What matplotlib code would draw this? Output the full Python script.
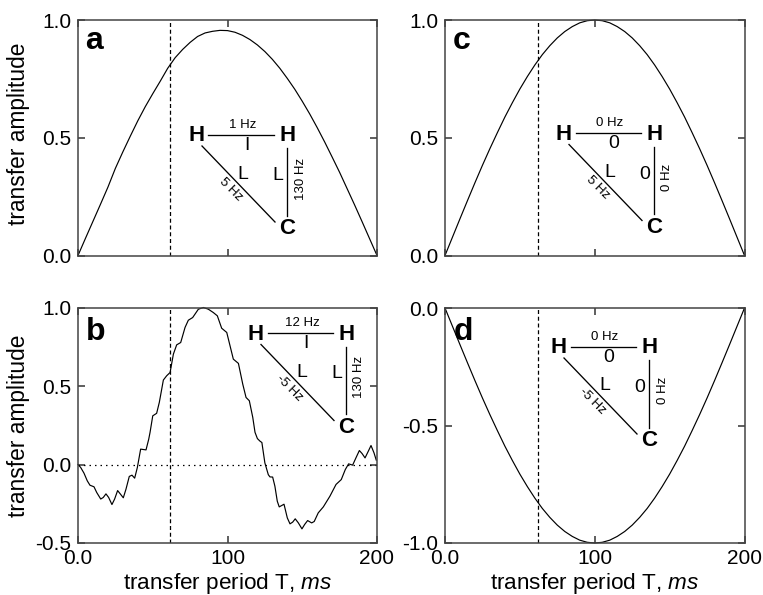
import matplotlib
matplotlib.use('Agg')
import matplotlib.pyplot as plt
from matplotlib.lines import Line2D

plt.rcParams['font.family'] = ['Liberation Sans', 'DejaVu Sans']
plt.rcParams['mathtext.fontset'] = 'custom'
plt.rcParams['mathtext.it'] = 'Liberation Sans:italic'

W, H = 763, 595

# curves
T_grid = [0, 5, 10, 15, 20, 25, 30, 35, 40, 45, 50, 55, 60, 65, 70, 75, 80, 85, 90, 95, 100,
          105, 110, 115, 120, 125, 130, 135, 140, 145, 150, 155, 160, 165, 170, 175, 180, 185, 190, 195, 200]
amp_a = [0, .073, .145, .217, .29, .37, .44, .507, .572, .632, .687, .74, .795, .84, .875, .905, .93, .945, .952, .956, .955,
         .948, .935, .917, .894, .866, .833, .795, .752, .706, .655, .601, .543, .482, .418, .353, .284, .215, .144, .072, 0]
amp_c = [0, .078, .156, .233, .309, .383, .454, .522, .588, .649, .707, .76, .809, .853, .891, .924, .951, .972, .988, .997, 1,
         .997, .988, .972, .951, .924, .891, .853, .809, .76, .707, .649, .588, .522, .454, .383, .309, .233, .156, .078, 0]
amp_d = [-v for v in amp_c]

T_b = [0, 1.8, 4, 6.2, 8, 10.7, 12.5, 15.2, 16.9, 18.7, 20.5, 22.7, 24.5, 26.5, 28.5, 30.3, 32.1, 34.3, 36.1, 37.9,
       39.7, 41.9, 45.5, 47.3, 48.2, 50, 52.6, 54.4, 57.1, 59.3, 61.6, 63.8, 66, 68.7, 71.6, 73.8, 76.7, 80.5, 83.9,
       87.2, 90.5, 93.2, 96.1, 99.5, 101.7, 103.9, 107.3, 110.2, 112.4, 114.6, 116.9, 118.4, 120, 121.7, 123, 125,
       127.3, 128.4, 130.2, 131.7, 133.3, 134.6, 137.8, 140, 141.8, 143.6, 145.3, 147.4, 149.8, 151.6, 153.6, 156.3,
       158, 160.7, 164.1, 168.5, 172.6, 176.1, 178.8, 181, 183.7, 185.9, 188.2, 190, 192, 194.2, 196, 198, 199.5]
amp_b = [0, -.019, -.055, -.104, -.132, -.142, -.178, -.22, -.21, -.187, -.21, -.255, -.22, -.166, -.19, -.212, -.157,
         -.076, -.068, -.087, -.019, .098, .093, .161, .205, .31, .326, .396, .538, .565, .586, .703, .762, .777, .873,
         .919, .936, .989, 1, .989, .968, .947, .868, .841, .756, .671, .644, .512, .427, .406, .3, .205, .165, .149,
         .14, .01, -.065, -.079, -.08, -.138, -.234, -.27, -.253, -.34, -.378, -.367, -.346, -.372, -.41, -.382, -.357,
         -.372, -.363, -.308, -.27, -.202, -.127, -.096, -.032, .004, -.004, .042, .089, .07, .042, .085, .121, .074, .028]

T_mark = 61.8
x_ticks = [0, 100, 200]
x_labels = ['0.0', '100', '200']

# left, top, right, bottom in pixels of the picture
panels = {
    'a': dict(box=(78, 20, 377, 255.5), T=T_grid, y=amp_a, ylim=(0, 1), yt=[0, .5, 1], letter=(85.5, 49),
              origin=(197, 135.5), top='1 Hz', j='I', diag='5 Hz', v1='L', v2='L', side='130 Hz'),
    'b': dict(box=(78, 307.5, 377, 543), T=T_b, y=amp_b, ylim=(-.5, 1), yt=[-.5, 0, .5, 1], letter=(86, 340.5),
              origin=(256, 334), top='12 Hz', j='I', diag='-5 Hz', v1='L', v2='L', side='130 Hz'),
    'c': dict(box=(445, 20, 744.5, 255.5), T=T_grid, y=amp_c, ylim=(0, 1), yt=[0, .5, 1], letter=(452.5, 49),
              origin=(564, 134), top='0 Hz', j='0', diag='5 Hz', v1='L', v2='0', side='0 Hz'),
    'd': dict(box=(445, 308, 744.5, 543), T=T_grid, y=amp_d, ylim=(-1, 0), yt=[-1, -.5, 0], letter=(454, 340),
              origin=(559, 347.5), top='0 Hz', j='0', diag='-5 Hz', v1='L', v2='0', side='0 Hz'),
}


def fx(px):
    return px / W


def fy(py):
    return 1 - py / H


def draw_triangle(fig, p):
    x0, y0 = p['origin']

    def seg(x1, y1, x2, y2):
        fig.add_artist(Line2D([fx(x0 + x1), fx(x0 + x2)], [fy(y0 + y1), fy(y0 + y2)], color='black', lw=0.95,
                              zorder=5))

    def txt(x, y, s, size, **kw):
        fig.text(fx(x0 + x), fy(y0 + y), s, fontsize=size, ha='center', va='center', zorder=6, **kw)

    seg(11.5, -1, 76.5, -1)
    seg(5, 10.5, 78, 86.5)
    seg(90.3, 12.8, 90.3, 80.3)
    txt(0, 0, 'H', 16, fontweight='bold')
    txt(91, 0, 'H', 16, fontweight='bold')
    txt(90, 93.5, 'C', 16, fontweight='bold')
    txt(46, -11, p['top'], 9.5)
    txt(50, 10, p['j'], 14)
    txt(46, 38.5, p['v1'], 14)
    txt(80.5, 40, p['v2'], 14)
    txt(33.5, 54, p['diag'], 9.5, rotation=-45, rotation_mode='anchor')
    txt(103.5, 43, p['side'], 9.5, rotation=90)


fig = plt.figure(figsize=(W / 100, H / 100), dpi=100)

for name, p in panels.items():
    l, t, r, b = p['box']
    ax = fig.add_axes([fx(l), fy(b), (r - l) / W, (b - t) / H])
    ax.plot(p['T'], p['y'], color='black', lw=0.85, clip_on=False, solid_joinstyle='round')
    ax.axvline(T_mark, color='black', lw=0.9, dashes=(3.2, 2.2))
    if name == 'b':
        ax.axhline(0, color='black', lw=0.9, dashes=(1.2, 3.2))
    ax.set_xlim(0, 200)
    ax.set_ylim(*p['ylim'])
    ax.set_yticks(p['yt'])
    ax.set_yticklabels(['%.1f' % v for v in p['yt']])
    ax.set_xticks(x_ticks)
    ax.tick_params(direction='in', length=4.8, width=1.1, color='#333333', top=True, right=True,
                   labelsize=15, pad=5)
    ax.tick_params(axis='x', pad=4.5)
    for s in ax.spines.values():
        s.set_linewidth(1.1)
        s.set_color('#444444')
    if name in 'bd':
        ax.set_xticklabels(x_labels)
        fig.text((l + r) / 2 / W, fy(589), r'transfer period T, $\mathit{ms}$', fontsize=16.2,
                 ha='center', va='baseline')
    else:
        ax.set_xticklabels([])
    fig.text(fx(p['letter'][0]), fy(p['letter'][1]), name, fontsize=23, fontweight='bold', va='baseline', zorder=6)
    draw_triangle(fig, p)

fig.text(fx(19), fy(134), 'transfer amplitude', fontsize=16.4, rotation=90, ha='center', va='center')
fig.text(fx(19), fy(426), 'transfer amplitude', fontsize=16.4, rotation=90, ha='center', va='center')

fig.savefig('out.png', dpi=100)
